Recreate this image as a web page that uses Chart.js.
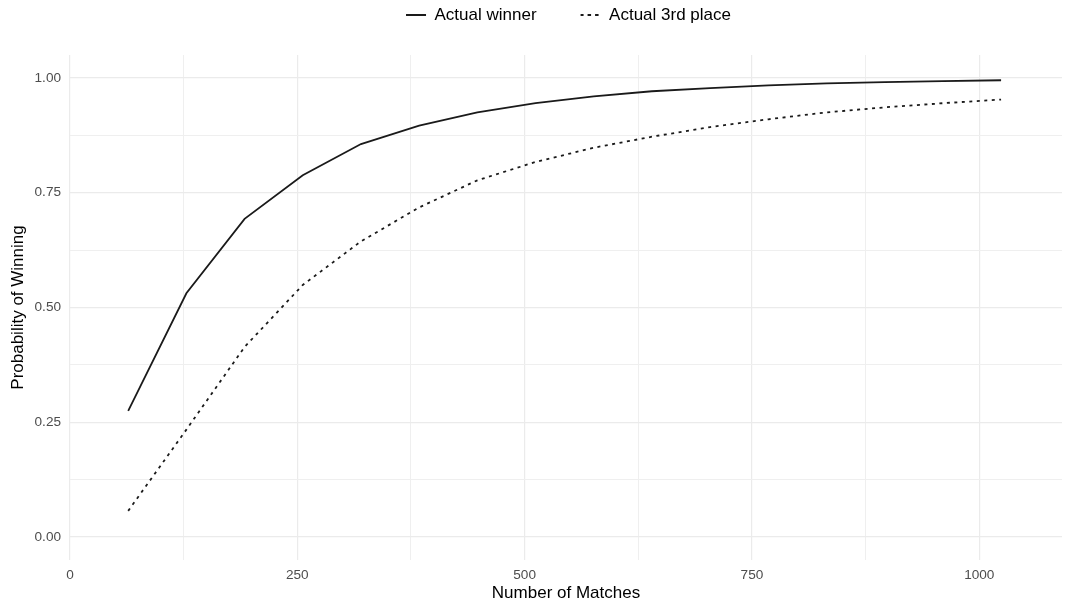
<!DOCTYPE html>
<html>
<head>
<meta charset="utf-8">
<script src="https://cdn.jsdelivr.net/npm/chart.js@4/dist/chart.umd.min.js"></script>
<style>
  html, body { margin: 0; padding: 0; background: #ffffff; }
  #wrap { width: 1067px; height: 606px; }
</style>
</head>
<body>
<div id="wrap"><canvas id="c" width="1067" height="606"></canvas></div>
<script>
// ---- data ----
const matches = [64, 128, 192, 256, 320, 384, 448, 512, 576, 640, 704, 768, 832, 896, 960, 1024];
const actualWinner = [0.275, 0.531, 0.693, 0.788, 0.856, 0.896, 0.925, 0.945, 0.960, 0.971, 0.978, 0.984, 0.988, 0.991, 0.993, 0.995];
const actualThird = [0.057, 0.234, 0.414, 0.549, 0.644, 0.718, 0.777, 0.817, 0.848, 0.872, 0.893, 0.910, 0.925, 0.936, 0.945, 0.953];
const seriesNames = ['Actual winner', 'Actual 3rd place'];
const xTitle = 'Number of Matches';
const yTitle = 'Probability of Winning';
const xMajorTicks = [0, 250, 500, 750, 1000];
const yMajorTicks = [0, 0.25, 0.5, 0.75, 1.0];

Chart.defaults.font.family = '"Liberation Sans", Arial, Helvetica, sans-serif';

const toPoints = (ys) => matches.map((m, i) => ({ x: m, y: ys[i] }));
const isMajor = (v, list) => list.some(t => Math.abs(t - v) < 1e-6);

const LEGEND_FONT = 17;
const LEGEND_PAD = 44;
const LEGEND_CENTER_Y = 15;

// Move the (library-drawn) legend so its row sits at the top and is centred over the panel.
const legendPlacer = {
  id: 'legendPlacer',
  afterLayout(chart) {
    const lg = chart.legend;
    if (!lg) return;
    const bottom = lg.bottom;
    lg.top = LEGEND_CENTER_Y - LEGEND_PAD - LEGEND_FONT / 2;
    lg.bottom = bottom;
    lg.left = 70;
    lg.right = 1067;
  }
};

const gridColor = (ctx, list) => isMajor(ctx.tick.value, list) ? '#ebebeb' : '#efefef';
const gridWidth = (ctx, list) => isMajor(ctx.tick.value, list) ? 1.2 : 1;

new Chart(document.getElementById('c'), {
  type: 'line',
  data: {
    datasets: [
      {
        label: seriesNames[0],
        data: toPoints(actualWinner),
        borderColor: '#1a1a1a',
        backgroundColor: '#1a1a1a',
        borderWidth: 1.8,
        pointRadius: 0,
        tension: 0,
        fill: false
      },
      {
        label: seriesNames[1],
        data: toPoints(actualThird),
        borderColor: '#1a1a1a',
        backgroundColor: '#1a1a1a',
        borderWidth: 1.8,
        borderDash: [3, 4.5],
        pointRadius: 0,
        tension: 0,
        fill: false
      }
    ]
  },
  options: {
    responsive: false,
    animation: false,
    devicePixelRatio: 1,
    layout: { padding: { left: 0, right: 5, top: 0, bottom: 0 } },
    plugins: {
      legend: {
        display: true,
        position: 'top',
        align: 'center',
        maxHeight: 55,
        labels: {
          usePointStyle: false,
          boxWidth: 20,
          boxHeight: 0,
          padding: LEGEND_PAD,
          color: '#000000',
          font: { size: LEGEND_FONT }
        }
      },
      tooltip: { enabled: false }
    },
    scales: {
      x: {
        type: 'linear',
        min: 0,
        max: 1091,
        border: { display: false },
        grid: {
          drawTicks: false,
          color: (ctx) => gridColor(ctx, xMajorTicks),
          lineWidth: (ctx) => gridWidth(ctx, xMajorTicks)
        },
        ticks: {
          stepSize: 125,
          includeBounds: false,
          autoSkip: false,
          maxRotation: 0,
          padding: 7,
          color: '#4d4d4d',
          font: { size: 13.6 },
          callback: (v) => isMajor(v, xMajorTicks) ? String(v) : ''
        },
        title: {
          display: true,
          text: xTitle,
          color: '#000000',
          font: { size: 17 },
          padding: { top: 0, bottom: 2 }
        },
        afterFit: (s) => { s.height = 46; }
      },
      y: {
        type: 'linear',
        min: -0.05,
        max: 1.05,
        border: { display: false },
        grid: {
          drawTicks: false,
          color: (ctx) => gridColor(ctx, yMajorTicks),
          lineWidth: (ctx) => gridWidth(ctx, yMajorTicks)
        },
        ticks: {
          stepSize: 0.125,
          includeBounds: false,
          autoSkip: false,
          padding: 9,
          color: '#4d4d4d',
          font: { size: 13.6 },
          callback: (v) => isMajor(v, yMajorTicks) ? Number(v).toFixed(2) : ''
        },
        title: {
          display: true,
          text: yTitle,
          color: '#000000',
          font: { size: 17 },
          padding: { top: 8, bottom: 0 }
        },
        afterFit: (s) => { s.width = 70; }
      }
    }
  },
  plugins: [legendPlacer]
});
</script>
</body>
</html>
